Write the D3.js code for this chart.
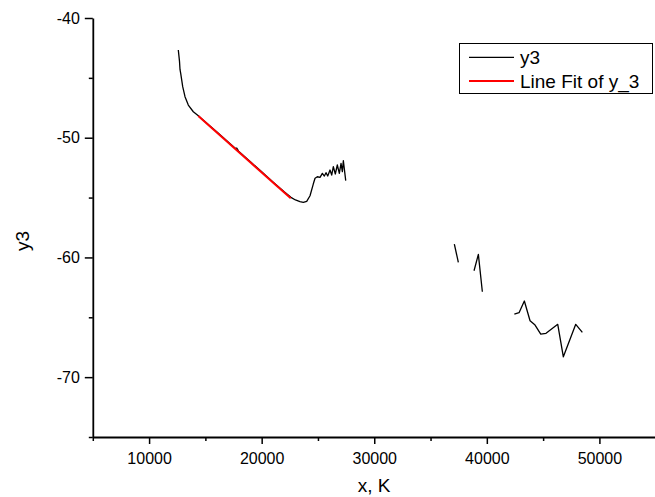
<!DOCTYPE html>
<html>
<head>
<meta charset="utf-8">
<script src="https://cdn.jsdelivr.net/npm/d3@7"></script>
<style>
  html, body { margin: 0; padding: 0; background: #fff; }
  svg { display: block; font-family: "Liberation Sans", Arial, sans-serif; }
</style>
</head>
<body>
<svg id="chart" width="655" height="497"></svg>
<script>
// ---- data ----
const y3X = [12595, 12700, 12746, 12808, 12986, 13190, 13483, 13928, 14372, 15000, 16000, 17000, 17600, 17800, 17950, 18200, 19000, 20000, 21000, 22000, 22600, 23000, 23400, 23700, 24000, 24295, 24590, 24740, 24945, 25183, 25390, 25566, 25717, 25867, 26071, 26222, 26365, 26542, 26720, 26898, 27049, 27165, 27254, 27467];
const y3Y = [-42.67, -43.6, -44.3, -44.62, -45.74, -46.57, -47.27, -47.83, -48.17, -48.68, -49.51, -50.34, -50.84, -50.88, -51.12, -51.34, -52.01, -52.85, -53.69, -54.52, -54.98, -55.20, -55.34, -55.40, -55.32, -54.85, -53.85, -53.39, -53.26, -53.31, -52.98, -53.20, -52.92, -53.20, -52.70, -53.12, -52.42, -53.03, -52.28, -52.98, -52.14, -52.84, -51.92, -53.59];

// isolated fragments at high x
const seg1X = [37114, 37470];
const seg1Y = [-58.88, -60.41];
const seg2X = [38863, 39248, 39603];
const seg2Y = [-61.11, -59.74, -62.87];
const seg3X = [42444, 42862, 43333, 43839, 44284, 44790, 45259, 46299, 46796, 47898, 48484];
const seg3Y = [-64.73, -64.62, -63.64, -65.29, -65.65, -66.40, -66.34, -65.59, -68.30, -65.59, -66.26];

// linear fit
const fitX = [14372, 22580];
const fitY = [-48.19, -55.06];

const xTicks = [10000, 20000, 30000, 40000, 50000];
const xMinorTicks = [5000, 15000, 25000, 35000, 45000, 55000];
const yTicks = [-70, -60, -50, -40];
const yMinorTicks = [-75, -65, -55, -45];

const legendLabels = ["y3", "Line Fit of y_3"];
const xTitle = "x, K";
const yTitle = "y3";

// ---- drawing ----
const svg = d3.select("#chart");
const x = d3.scaleLinear().domain([5000, 55000]).range([92.8, 655.7]);
const y = d3.scaleLinear().domain([-75, -40]).range([437, 18]);

const line = d3.line().x(d => x(d[0])).y(d => y(d[1]));
const zip = (a, b) => a.map((v, i) => [v, b[i]]);
const fmt = d => String(d); // plain hyphen minus like the reference

// series
[ [y3X, y3Y], [seg1X, seg1Y], [seg2X, seg2Y], [seg3X, seg3Y] ].forEach(([xs, ys]) => {
  svg.append("path")
    .attr("d", line(zip(xs, ys)))
    .attr("fill", "none")
    .attr("stroke", "#000")
    .attr("stroke-width", 1.3)
    .attr("stroke-linejoin", "round");
});

svg.append("path")
  .attr("d", line(zip(fitX, fitY)))
  .attr("fill", "none")
  .attr("stroke", "#ff0000")
  .attr("stroke-width", 2);

// axes
svg.append("g").attr("transform", "translate(0,437)")
  .call(d3.axisBottom(x).tickValues(xTicks).tickSize(7).tickSizeOuter(0).tickPadding(9).tickFormat(fmt));
svg.append("g").attr("transform", "translate(0,437)")
  .call(d3.axisBottom(x).tickValues(xMinorTicks).tickSize(4).tickSizeOuter(0).tickFormat(""))
  .select(".domain").remove();

svg.append("g").attr("transform", "translate(92.8,0)")
  .call(d3.axisLeft(y).tickValues(yTicks).tickSize(8).tickSizeOuter(0).tickPadding(5).tickFormat(fmt));
svg.append("g").attr("transform", "translate(92.8,0)")
  .call(d3.axisLeft(y).tickValues(yMinorTicks).tickSize(4).tickSizeOuter(0).tickFormat(""))
  .select(".domain").remove();

svg.selectAll(".domain").attr("stroke", "#000").attr("stroke-width", 1.8);
svg.selectAll(".tick line").attr("stroke", "#000").attr("stroke-width", 1.5);
svg.selectAll(".tick text").attr("font-size", 16).attr("fill", "#000")
  .attr("font-family", "'Liberation Sans', Arial, sans-serif");

// titles
svg.append("text").attr("x", 374).attr("y", 492).attr("text-anchor", "middle")
  .attr("font-size", 19).attr("fill", "#000").text(xTitle);
svg.append("text").attr("transform", "translate(29,241) rotate(-90)").attr("text-anchor", "middle")
  .attr("font-size", 19).attr("fill", "#000").text(yTitle);

// legend
const lg = svg.append("g");
lg.append("rect").attr("x", 459.5).attr("y", 43.5).attr("width", 193).attr("height", 50)
  .attr("fill", "#fff").attr("stroke", "#000").attr("stroke-width", 1);
const legColors = ["#000", "#ff0000"];
const legY = [57.3, 81];
legendLabels.forEach((lab, i) => {
  lg.append("line").attr("x1", 469).attr("x2", 514).attr("y1", legY[i]).attr("y2", legY[i])
    .attr("stroke", legColors[i]).attr("stroke-width", i === 0 ? 1.3 : 2);
  lg.append("text").attr("x", 520).attr("y", legY[i] + 6.5).attr("font-size", 19).attr("fill", "#000").text(lab);
});
</script>
</body>
</html>
